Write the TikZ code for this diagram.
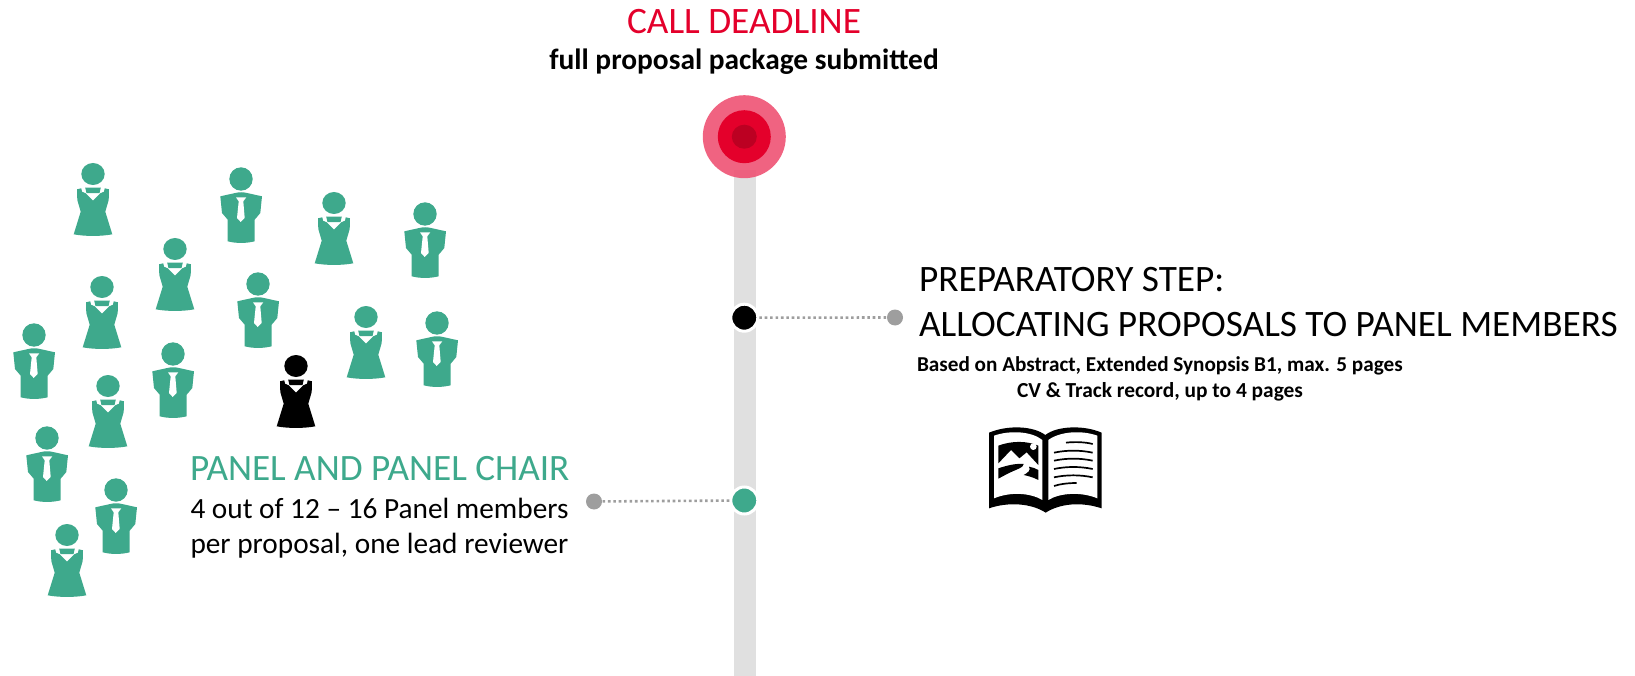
\documentclass[tikz,border=0pt]{standalone}
\usepackage{fontspec}
\setmainfont{Carlito}
\definecolor{teal}{HTML}{3EA98C}
\definecolor{crim}{HTML}{E4002B}
\definecolor{crimd}{HTML}{BC0022}
\definecolor{crimo}{HTML}{EF5676}
\definecolor{barg}{HTML}{E0E0E0}
\definecolor{dotg}{HTML}{9E9E9E}
\tikzset{
  x=1pt,y=-1pt,
  lbl/.style={inner sep=0pt,outer sep=0pt,anchor=base west,align=left},
  ctr/.style={inner sep=0pt,outer sep=0pt,anchor=base},
  dotline/.style={dotg,line width=2.6pt,dash pattern=on 2.6pt off 2.8pt},
  greydot/.style={circle,fill=dotg,minimum size=16pt,inner sep=0pt},
  stopdot/.style={circle,draw=white,line width=3pt,minimum size=27pt,inner sep=0pt},
  pics/woman/.style={code={
    \fill[#1] (0,0) ellipse (11.7 and 11);
    \fill[#1] (-16,15.3)--(-11.7,14.3)--(-11,17.7)--(-7.3,19.3)--(0,26.7)--(7.3,19.3)--(11,17.7)--(11.7,14.3)--(16,15.3)
      --(15.7,26)--(12.3,37.7)--(19.3,60.3) .. controls (8,62.5) and (-8,62.5) .. (-19.3,60.3)--(-12.3,37.7)--(-15.7,26)--cycle;
    \fill[#1] (-7.8,13.6)--(7.8,13.6)--(6.5,19.2)--(-6.5,19.2)--cycle;
  }},
  pics/man/.style={code={
    \fill[#1] (0,0) ellipse (11.7 and 11.7);
    \fill[#1] (-20.7,17.3)--(-5.7,14) .. controls (-2,13) and (2,13) .. (6,14)--(21,17.3)--(19.3,34)--(13.7,40.7)--(13.7,62.3)
      .. controls (5,64.5) and (-5,64.5) .. (-13.3,62.3)--(-13.3,40.7)--(-19,34)--cycle;
    \fill[white] (-5,18.3)--(5.3,18.3)--(2.3,22.3)--(3.7,39)--(-0.3,43)--(-4,39)--(-2.3,22.3)--cycle;
  }},
}
\begin{document}
\begin{tikzpicture}
\useasboundingbox (0,0) rectangle (1635,676);
% bar and target
\fill[barg] (734,170) rectangle (756,676);
\fill[crimo,fill opacity=0.92] (744.3,136.7) circle (41.5);
\fill[crim] (744.3,136.7) circle (26.5);
\fill[crimd] (744.3,136.7) ellipse (12.5 and 12);
% titles
\node[ctr,text=crim,font=\fontsize{37.3}{37}\selectfont] (deadline) at (744,33.2) {CALL DEADLINE};
\node[ctr,font=\fontsize{29.4}{29}\selectfont\bfseries] (pkg) at (744,70) {full proposal package submitted};
% stops
\node[stopdot,fill=black] (s1) at (744.3,317.7) {};
\node[stopdot,fill=teal] (s2) at (744.3,500.5) {};
\node[greydot] (g1) at (895,317.5) {};
\node[greydot] (g2) at (594,501.5) {};
\draw[dotline] (s1) -- (g1);
\draw[dotline] (s2) -- (g2);
% right text
\node[lbl,font=\fontsize{37.3}{37}\selectfont] (prep1) at (919,291.7) {PREPARATORY STEP:};
\node[lbl,font=\fontsize{37.3}{37}\selectfont] (prep2) at (919,336) {ALLOCATING PROPOSALS TO PANEL MEMBERS};
\node[lbl,font=\fontsize{21.2}{21}\selectfont\bfseries] (b1) at (917,371.5) {Based on Abstract, Extended Synopsis B1, max. 5 pages};
\node[lbl,font=\fontsize{21.4}{21}\selectfont\bfseries] (b2) at (1017,397.5) {CV \& Track record, up to 4 pages};
% left text
\node[lbl,text=teal,font=\fontsize{37.2}{37}\selectfont] (p1) at (190,480.3) {PANEL AND PANEL CHAIR};
\node[lbl,font=\fontsize{29.3}{29}\selectfont] (p2) at (190.5,518) {4 out of 12 – 16 Panel members};
\node[lbl,font=\fontsize{29.3}{29}\selectfont] (p3) at (190.5,553.5) {per proposal, one lead reviewer};
% people
\foreach \px/\py in {93/174,334/203,175/249,102/287,366/317,108/386,67/535}
  \pic at (\px,\py) {woman=teal};
\pic at (296,366) {woman=black};
\foreach \px/\py in {241/179,425/214,258/284,437/323,34/335,173/354,47/438,116/490}
  \pic at (\px,\py) {man=teal};
% book
\begin{scope}[shift={(985,420)},x=0.3333pt,y=-0.3333pt]
\fill[black] (12,38) .. controls (70,14) and (145,18) .. (181,45) .. controls (215,18) and (295,14) .. (350,38)
  -- (350,265) .. controls (290,245) and (225,250) .. (182,278) .. controls (140,250) and (70,245) .. (12,265) -- cycle;
\fill[white] (27,47) .. controls (75,30) and (140,34) .. (172,60) -- (172,240) .. controls (135,218) and (75,215) .. (27,235) -- cycle;
\fill[white] (190,60) .. controls (225,34) and (290,30) .. (337,47) -- (337,235) .. controls (290,215) and (225,218) .. (190,240) -- cycle;
% picture
\fill[black] (40,77) .. controls (80,62) and (125,62) .. (160,77) -- (160,135) -- (125,97) -- (103,115) -- (78,90) -- (40,130) -- cycle;
\fill[white] (145,80) circle (10);
\fill[black] (40,145) .. controls (70,135) and (95,130) .. (116,132) .. controls (118,142) and (90,150) .. (70,160) -- (40,176) -- cycle;
\fill[black] (132,140) .. controls (142,142) and (152,145) .. (160,150) -- (160,180) .. controls (145,172) and (130,168) .. (116,165) .. controls (130,158) and (138,150) .. (132,140) -- cycle;
% text lines
\draw[black,line width=1.7pt] (243,68) .. controls (270,65) and (300,66) .. (323,72);
\foreach \yy in {98,122,147,172} {
  \draw[black,line width=1.7pt] (207,\yy) .. controls (245,\yy-8) and (285,\yy-8) .. (323,\yy);
}
\draw[black,line width=1.7pt] (207,198) .. controls (225,192) and (250,189) .. (275,189);
\end{scope}
\end{tikzpicture}
\end{document}
